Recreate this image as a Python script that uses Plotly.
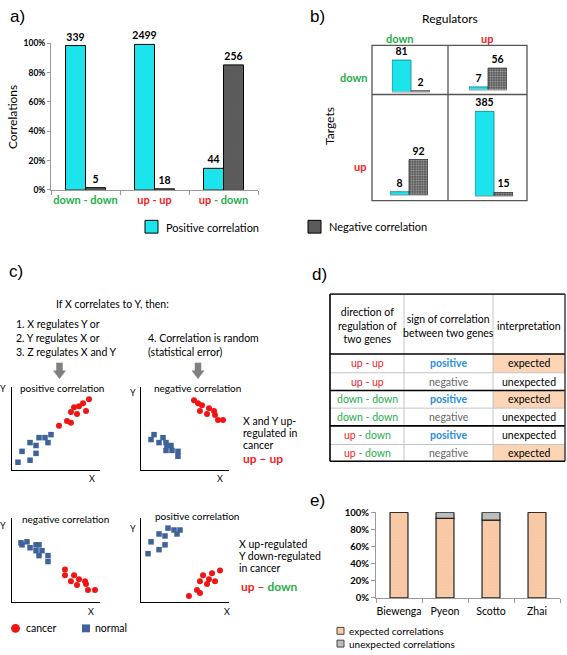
import plotly.graph_objects as go

W, H = 567, 655
def X(p): return p / W
def Y(p): return 1 - p / H

RED = '#ed1c24'; GREEN = '#1fae4b'; CYAN = '#1ce4ec'; DARK = '#5a5a5a'
PEACH = '#f9caa6'; LGREY = '#bdbdbd'; BLUE = '#3e6299'; PTRED = '#f01414'
POSBLUE = '#1f8fdc'
FONT = 'Lato'

# ---------------- data ----------------
# a) share of positive / negative correlations per regulation direction
a_categories = ['down - down', 'up - up', 'up - down']
a_pos_pct = [98.5, 99.3, 14.7]
a_neg_pct = [1.5, 0.7, 85.3]
a_pos_n = [339, 2499, 44]
a_neg_n = [5, 18, 256]
a_yticks = [0, 20, 40, 60, 80, 100]

# b) regulator / target matrix: (regulator, target)
b_cells = [('down', 'down'), ('up', 'down'), ('down', 'up'), ('up', 'up')]
b_pos = [81, 7, 8, 385]
b_neg = [2, 56, 92, 15]

# c) schematic scatter plots (axis units 0-10)
c1_red_x = [5.34, 6.25, 6.70, 6.70, 7.05, 7.39, 7.61, 8.07, 8.41, 8.75]
c1_red_y = [5.29, 5.88, 5.65, 6.94, 7.53, 6.71, 7.65, 8.00, 7.06, 8.47]
c1_blue_x = [0.68, 1.14, 2.05, 2.05, 2.73, 2.73, 3.07, 3.75, 4.09, 4.43]
c1_blue_y = [0.94, 2.24, 3.29, 1.18, 2.94, 2.00, 3.88, 3.88, 3.29, 4.24]

c2_red_x = [6.02, 6.48, 6.93, 7.73, 8.30, 6.70, 7.50, 8.41, 8.75, 9.32]
c2_red_y = [8.35, 8.00, 7.76, 7.41, 7.06, 7.06, 6.71, 6.59, 6.00, 6.00]
c2_blue_x = [1.14, 1.48, 2.05, 2.50, 2.84, 2.95, 3.41, 3.52, 4.20, 4.20, 2.84]
c2_blue_y = [3.65, 4.24, 3.29, 3.88, 3.29, 2.94, 2.94, 2.35, 2.24, 1.65, 2.35]

c3_blue_x = [1.02, 1.14, 1.70, 2.05, 2.73, 3.07, 2.73, 3.41, 3.07, 4.09, 4.09]
c3_blue_y = [7.06, 6.82, 7.18, 6.47, 6.82, 6.82, 6.12, 6.12, 5.53, 5.53, 4.82]
c3_red_x = [6.02, 6.02, 6.70, 7.05, 7.61, 7.39, 8.30, 8.41, 8.64, 9.43]
c3_red_y = [3.88, 3.18, 2.47, 3.18, 2.71, 2.00, 2.47, 2.12, 1.41, 1.41]

c4_blue_x = [0.80, 1.14, 2.05, 2.05, 2.73, 2.73, 3.07, 3.75, 4.09, 4.43]
c4_blue_y = [5.76, 7.18, 6.24, 8.12, 6.82, 7.88, 8.82, 8.59, 8.12, 8.59]
c4_red_x = [5.45, 6.36, 6.70, 6.70, 7.05, 7.50, 7.73, 8.07, 8.41, 8.98]
c4_red_y = [0.71, 1.41, 1.06, 2.47, 3.18, 2.12, 2.71, 3.41, 2.47, 3.76]

# d) interpretation table
d_header = ['direction of<br>regulation of<br>two genes',
            'sign of correlation<br>between two genes',
            'interpretation']
d_direction = ['up - up', 'up - up', 'down - down', 'down - down', 'up - down', 'up - down']
d_sign = ['positive', 'negative', 'positive', 'negative', 'positive', 'negative']
d_interp = ['expected', 'unexpected', 'expected', 'unexpected', 'unexpected', 'expected']

# e) expected / unexpected correlations per study
e_studies = ['Biewenga', 'Pyeon', 'Scotto', 'Zhai']
e_expected = [100, 93, 91, 100]
e_unexpected = [0, 7, 9, 0]
e_yticks = [0, 20, 40, 60, 80, 100]

# ---------------- helpers ----------------
def col(t, c):
    return f"<span style='color:{c}'>{t}</span>"

def dir_html(t):
    if t == 'up - up':
        return col(t, RED)
    if t == 'down - down':
        return col(t, GREEN)
    return col('up', RED) + col(' - down', GREEN)

fig = go.Figure()
annotations = []
shapes = []

def ann(text, x, y, size=10, color='black', xanchor='left', yanchor='middle',
        weight='normal', angle=0, family=FONT):
    annotations.append(dict(text=text, x=X(x), y=Y(y), xref='paper', yref='paper',
                            xanchor=xanchor, yanchor=yanchor, showarrow=False,
                            textangle=angle, borderpad=0,
                            font=dict(size=size, color=color, family=family, weight=weight)))

def line(x0, y0, x1, y1, color='black', width=1):
    shapes.append(dict(type='line', xref='paper', yref='paper', x0=X(x0), y0=Y(y0),
                       x1=X(x1), y1=Y(y1), line=dict(color=color, width=width)))

def rect(x0, y0, x1, y1, fill, lc=None, lw=0):
    shapes.append(dict(type='rect', xref='paper', yref='paper', x0=X(x0), y0=Y(y0),
                       x1=X(x1), y1=Y(y1), fillcolor=fill, layer='below',
                       line=dict(color=lc or fill, width=lw)))

axes = {}

def set_axes(n, xd, yd, xkw=None, ykw=None):
    sx = '' if n == 1 else str(n)
    xa = dict(domain=[X(xd[0]), X(xd[1])], anchor='y' + sx, showgrid=False, zeroline=False)
    ya = dict(domain=[Y(yd[1]), Y(yd[0])], anchor='x' + sx, showgrid=False, zeroline=False)
    xa.update(xkw or {}); ya.update(ykw or {})
    axes['xaxis' + sx] = xa
    axes['yaxis' + sx] = ya
    return 'x' + sx, 'y' + sx

GREY_PATTERN = dict(shape='.', fgcolor='#646464', size=2.5, solidity=0.3)
PEACH_PATTERN = dict(shape='.', fgcolor='#efbd99', size=3, solidity=0.2)

# ---------------- panel a ----------------
xa, ya = set_axes(1, (51, 258), (38, 187),
                  xkw=dict(type='category', categoryarray=a_categories, categoryorder='array',
                           tickvals=a_categories, ticktext=[dir_html(c) for c in a_categories],
                           tickangle=0,
                           tickson='boundaries', ticks='outside', ticklen=4, tickcolor='#999',
                           showline=True, linecolor='#999', linewidth=1,
                           tickfont=dict(size=11, family=FONT, weight='bold')),
                  ykw=dict(range=[0, 100], tickvals=a_yticks, ticktext=[f'{v}%' for v in a_yticks],
                           ticks='outside',
                           ticklen=3, tickcolor='#999', showline=True, linecolor='#999',
                           tickfont=dict(size=8.5, family=FONT, weight='bold', color='black')))
fig.add_trace(go.Bar(x=a_categories, y=a_pos_pct, xaxis=xa, yaxis=ya, width=0.29, offset=-0.29,
                     marker=dict(color=CYAN, line=dict(color='black', width=1)),
                     text=a_pos_n, textposition='outside', constraintext='none', cliponaxis=False,
                     textfont=dict(size=10.5, family=FONT, color='black', weight='bold')))
fig.add_trace(go.Bar(x=a_categories, y=a_neg_pct, xaxis=xa, yaxis=ya, width=0.29, offset=0,
                     marker=dict(color=DARK, line=dict(color='black', width=1), pattern=GREY_PATTERN),
                     text=a_neg_n, textposition='outside', constraintext='none', cliponaxis=False,
                     textfont=dict(size=10.5, family=FONT, color='black', weight='bold')))
ann('Correlations', 12, 113, size=12, angle=-90, xanchor='center')
ann('a)', 9, 11, size=17, family='Liberation Sans')

# ---------------- panel b ----------------
b_geom = [((392, 430), (45, 87), 0.395), ((469, 507), (45, 85), 0.39),
          ((390, 428), (100, 192), 0.39), ((475, 513), (100, 193), 0.223)]
for i, (xd, yd, sc) in enumerate(b_geom):
    n = 2 + i
    xb, yb = set_axes(n, xd, yd,
                      xkw=dict(range=[-0.5, 1.5], showticklabels=False, ticks='',
                               showline=True, linecolor='#c8c8c8', linewidth=1),
                      ykw=dict(range=[0, (yd[1] - yd[0]) / sc], visible=False))
    fig.add_trace(go.Bar(x=[0, 1], y=[b_pos[i], b_neg[i]], xaxis=xb, yaxis=yb, width=[1, 1],
                         marker=dict(color=[CYAN, DARK],
                                     line=dict(color=['#127c82', '#333333'], width=0.8),
                                     pattern=dict(shape=['', '.'], fgcolor='#646464', size=2.5, solidity=0.3)),
                         text=[b_pos[i], b_neg[i]], textposition='outside', constraintext='none',
                         cliponaxis=False,
                         textfont=dict(size=10.5, family=FONT, color='black', weight='bold')))
shapes.append(dict(type='rect', xref='paper', yref='paper', x0=X(372), y0=Y(40), x1=X(527), y1=Y(198),
                   line=dict(color='#555', width=1.3)))
line(448, 40, 448, 198, '#555', 1.3)
line(372, 90, 527, 90, '#555', 1.3)
ann('b)', 309, 11, size=17, family='Liberation Sans')
ann('Regulators', 450, 13, size=12, xanchor='center')
ann('down', 400, 33, size=11, color=GREEN, xanchor='center', weight='bold')
ann('up', 487, 33, size=11, color=RED, xanchor='center', weight='bold')
ann('down', 354, 73, size=11, color=GREEN, xanchor='center', weight='bold')
ann('up', 360, 163, size=11, color=RED, xanchor='center', weight='bold')
ann('Targets', 330, 122, size=12, angle=-90, xanchor='center')

# legend a/b
rect(145, 218, 158, 231, CYAN, 'black', 1)
ann('Positive correlation', 165, 225, size=11)
shapes.append(dict(type='rect', xref='paper', yref='paper', x0=X(308), y0=Y(218), x1=X(321), y1=Y(231),
                   fillcolor=DARK, line=dict(color='black', width=1)))
ann('Negative correlation', 328, 224, size=11)

# ---------------- panel c ----------------
c_geom = [((12, 100), (387, 472)), ((141, 229), (387, 472)),
          ((12, 100), (521, 606)), ((141, 229), (521, 606))]
c_data = [(c1_red_x, c1_red_y, c1_blue_x, c1_blue_y),
          (c2_red_x, c2_red_y, c2_blue_x, c2_blue_y),
          (c3_red_x, c3_red_y, c3_blue_x, c3_blue_y),
          (c4_red_x, c4_red_y, c4_blue_x, c4_blue_y)]
for i, (xd, yd) in enumerate(c_geom):
    n = 6 + i
    axkw = dict(range=[0, 10], showticklabels=False, ticks='', showline=True,
                linecolor='black', linewidth=1.2)
    xc, yc = set_axes(n, xd, yd, xkw=dict(axkw), ykw=dict(axkw))
    rx, ry, bx, by = c_data[i]
    fig.add_trace(go.Scatter(x=bx, y=by, xaxis=xc, yaxis=yc, mode='markers',
                             marker=dict(symbol='square', size=5.5, color=BLUE), cliponaxis=False))
    fig.add_trace(go.Scatter(x=rx, y=ry, xaxis=xc, yaxis=yc, mode='markers',
                             marker=dict(symbol='circle', size=6, color=PTRED), cliponaxis=False))

ann('c)', 8, 270, size=17, family='Liberation Sans')
ann('If X correlates to Y, then:', 55, 303, size=10.5)
ann('1. X regulates Y or', 15, 323, size=10.5)
ann('2. Y regulates X or', 15, 338, size=10.5)
ann('3. Z regulates X and Y', 15, 352, size=10.5)
ann('4. Correlation is random', 147, 338, size=10.5)
ann('(statistical error)', 147, 352, size=10.5)
for cx in (59.5, 198):
    path = (f"M {X(cx-3)},{Y(363)} L {X(cx+3)},{Y(363)} L {X(cx+3)},{Y(371)} "
            f"L {X(cx+6)},{Y(371)} L {X(cx)},{Y(379)} L {X(cx-6)},{Y(371)} "
            f"L {X(cx-3)},{Y(371)} Z")
    shapes.append(dict(type='path', xref='paper', yref='paper', path=path,
                       fillcolor='#808080', line=dict(color='#808080', width=0.5)))
ann('positive correlation', 19, 389, size=10)
ann('negative correlation', 153, 389, size=10)
ann('negative correlation', 21, 522, size=10)
ann('positive correlation', 154, 519, size=10)
for (yx, yy) in [(3, 389), (133, 393), (3, 528), (133, 531)]:
    ann('Y', yx, yy, size=9, xanchor='center')
for (xx, xy) in [(92, 481), (220, 481), (91, 616), (227, 616)]:
    ann('X', xx, xy, size=9, xanchor='center')
ann('X and Y up-', 242, 422, size=10.5)
ann('regulated in', 242, 434, size=10.5)
ann('cancer', 242, 446, size=10.5)
ann(col('up – up', RED), 242, 460, size=12, weight='bold')
ann('X up-regulated', 238, 547, size=10.5)
ann('Y down-regulated', 238, 559, size=10.5)
ann('in cancer', 238, 572, size=10.5)
ann(col('up –', RED) + col(' down', GREEN), 240, 590, size=12, weight='bold')
# legend c
shapes.append(dict(type='circle', xref='paper', yref='paper', x0=X(11), y0=Y(628.5), x1=X(20), y1=Y(637.5),
                   fillcolor=PTRED, line=dict(color=PTRED, width=0)))
ann('cancer', 25, 633, size=10.5)
rect(82, 629, 90, 637, BLUE)
ann('normal', 94, 633, size=10.5)

# ---------------- panel d (table) ----------------
ann('d)', 311, 273, size=17, family='Liberation Sans')
tx0, tx1 = 330, 565
col_edges = [330, 404, 493, 565]
row_edges = [354, 373, 391, 409, 427, 446, 463]
for r, interp in enumerate(d_interp):
    if interp == 'expected':
        rect(col_edges[2], row_edges[r], col_edges[3], row_edges[r + 1], '#fbd4b6')
for cxe in col_edges[1:3]:
    line(cxe, 293, cxe, 463, '#c4c4c4', 1)
for r in range(1, 6):
    thick = r in (2, 4)
    line(tx0, row_edges[r], tx1, row_edges[r], 'black' if thick else '#c4c4c4', 1.6 if thick else 1)
line(tx0, 293, tx1, 293, '#333', 1.6)
line(tx0, 354, tx1, 354, 'black', 1.6)
line(tx0, 463, tx1, 463, 'black', 1.6)
line(tx0, 293, tx0, 463, 'black', 1.6)
line(tx1, 293, tx1, 463, '#333', 1.4)
col_centers = [(col_edges[i] + col_edges[i + 1]) / 2 for i in range(3)]
header_y = [325, 325, 325]
for i, htxt in enumerate(d_header):
    ann(htxt, col_centers[i], header_y[i], size=10.5, xanchor='center')
for r in range(6):
    yc = (row_edges[r] + row_edges[r + 1]) / 2
    ann(dir_html(d_direction[r]), col_centers[0], yc, size=10.5, xanchor='center')
    sc = POSBLUE if d_sign[r] == 'positive' else '#666'
    ann(col(d_sign[r], sc), col_centers[1], yc, size=10.5, xanchor='center',
        weight='bold' if d_sign[r] == 'positive' else 'normal')
    ann(d_interp[r], col_centers[2], yc, size=10.5, xanchor='center')

# ---------------- panel e ----------------
ann('e)', 309, 503, size=17, family='Liberation Sans')
xe, ye = set_axes(10, (376, 560), (515, 602),
                  xkw=dict(type='category', categoryarray=e_studies, categoryorder='array',
                           tickangle=0, ticklabelstandoff=4,
                           tickson='boundaries', ticks='outside', ticklen=4, tickcolor='#999',
                           showline=True, linecolor='#999', linewidth=1,
                           tickfont=dict(size=10.5, family=FONT, color='black')),
                  ykw=dict(range=[0, 100], tickvals=e_yticks, ticktext=[f'{v}%' for v in e_yticks],
                           ticks='outside',
                           ticklen=4, tickcolor='#999', showline=True, linecolor='#999',
                           tickfont=dict(size=9.5, family=FONT, weight='bold', color='black')))
fig.add_trace(go.Bar(x=e_studies, y=e_expected, xaxis=xe, yaxis=ye, width=0.39, offset=-0.195,
                     marker=dict(color=PEACH, line=dict(color='#222', width=1.2), pattern=PEACH_PATTERN)))
fig.add_trace(go.Bar(x=e_studies, y=e_unexpected, base=e_expected, xaxis=xe, yaxis=ye, width=0.39,
                     offset=-0.195, marker=dict(color=LGREY, line=dict(color='#222', width=1.2))))
rect(337, 632, 344, 639, PEACH, '#444', 1)
ann('expected correlations', 348, 636, size=10)
rect(337, 645, 344, 652, LGREY, '#444', 1)
ann('unexpected correlations', 348, 649, size=10)

fig.update_layout(width=W, height=H, margin=dict(l=0, r=0, t=0, b=0),
                  paper_bgcolor='white', plot_bgcolor='white', showlegend=False,
                  font=dict(family=FONT, size=10, color='black'),
                  annotations=annotations, shapes=shapes, **axes)
fig.write_html('out.html', config={'displayModeBar': False},
               post_script="document.body.style.margin='0';document.body.style.overflow='hidden';")
